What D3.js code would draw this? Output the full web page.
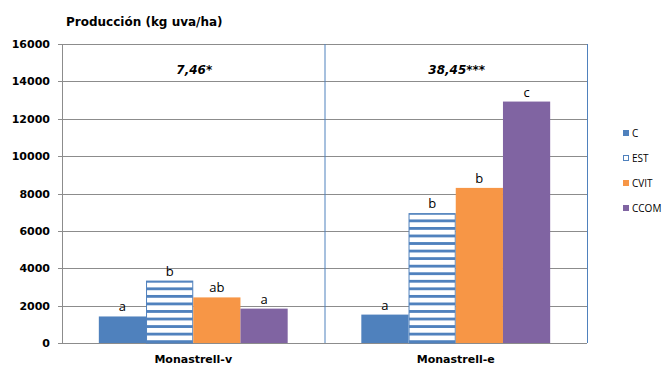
<!DOCTYPE html>
<html>
<head>
<meta charset="utf-8">
<script src="https://cdn.jsdelivr.net/npm/d3@7"></script>
<style>
  body { margin: 0; background: #fff; }
  svg { display: block; }
</style>
</head>
<body>
<script>
// Grape yield by variety and treatment
const categories = ["Monastrell-v", "Monastrell-e"];
const series = ["C", "EST", "CVIT", "CCOM"];
const valuesC    = [1420, 1520];
const valuesEST  = [3340, 6950];
const valuesCVIT = [2440, 8300];
const valuesCCOM = [1840, 12920];
const lettersC    = ["a", "a"];
const lettersEST  = ["b", "b"];
const lettersCVIT = ["ab", "b"];
const lettersCCOM = ["a", "c"];
const fStats = ["7,46*", "38,45***"];
const yTicks = [0, 2000, 4000, 6000, 8000, 10000, 12000, 14000, 16000];

const seriesValues = [valuesC, valuesEST, valuesCVIT, valuesCCOM];
const seriesLetters = [lettersC, lettersEST, lettersCVIT, lettersCCOM];

const W = 667, H = 367;
const plotL = 62, plotR = 587, plotT = 44, plotB = 343;

const svg = d3.select("body").append("svg").attr("width", W).attr("height", H);

const colors = { C: "#4f81bd", EST: "#4f81bd", CVIT: "#f79646", CCOM: "#8064a2" };

// striped fill for EST
const defs = svg.append("defs");
const pat = defs.append("pattern").attr("id", "stripes")
  .attr("patternUnits", "userSpaceOnUse").attr("width", 8).attr("height", 7.55)
  .attr("y", 0.5);
pat.append("rect").attr("width", 8).attr("height", 7.55).attr("fill", "#fff");
pat.append("rect").attr("y", 0).attr("width", 8).attr("height", 2.8).attr("fill", "#4f81bd");

const x0 = d3.scaleBand().domain(categories).range([plotL, plotR]);
const x1 = d3.scaleBand().domain(series).range([0, x0.bandwidth()]).paddingOuter(0.78);
const y = d3.scaleLinear().domain([0, 16000]).range([plotB, plotT]);

// gridlines
svg.append("g").selectAll("line").data(yTicks).join("line")
  .attr("x1", plotL - 4).attr("x2", plotR)
  .attr("y1", d => Math.round(y(d)) + 0.5).attr("y2", d => Math.round(y(d)) + 0.5)
  .attr("stroke", "#8c8c8c").attr("stroke-width", 1);

// y axis line
svg.append("line").attr("x1", plotL + 0.5).attr("x2", plotL + 0.5)
  .attr("y1", plotT).attr("y2", plotB).attr("stroke", "#8c8c8c");

// category separator and right border
svg.append("line").attr("x1", x0("Monastrell-e") + 0.5).attr("x2", x0("Monastrell-e") + 0.5)
  .attr("y1", plotT).attr("y2", plotB).attr("stroke", "#4f81bd");
svg.append("line").attr("x1", plotR + 0.5).attr("x2", plotR + 0.5)
  .attr("y1", plotT).attr("y2", plotB).attr("stroke", "#4f81bd");

// y tick labels
svg.append("g").selectAll("text").data(yTicks).join("text")
  .attr("x", 50).attr("y", d => y(d) + 4)
  .attr("text-anchor", "end")
  .attr("font-family", "DejaVu Sans").attr("font-weight", "bold").attr("font-size", 11)
  .attr("fill", "#000").text(d => d);

// axis title
svg.append("text").attr("x", 66).attr("y", 26)
  .attr("font-family", "DejaVu Sans").attr("font-weight", "bold").attr("font-size", 12)
  .text("Producción (kg uva/ha)");

// bars
const groups = svg.append("g").selectAll("g").data(categories).join("g")
  .attr("transform", c => `translate(${x0(c)},0)`);

groups.each(function(c, ci) {
  const g = d3.select(this);
  series.forEach((s, si) => {
    const v = seriesValues[si][ci];
    const bx = x1(s), bw = x1.bandwidth();
    if (s === "EST") {
      g.append("rect").attr("x", bx + 0.5).attr("y", y(v) + 0.5)
        .attr("width", bw - 1).attr("height", y(0) - y(v) - 0.5)
        .attr("fill", "url(#stripes)").attr("stroke", "#4f81bd").attr("stroke-width", 1);
    } else {
      g.append("rect").attr("x", bx).attr("y", y(v))
        .attr("width", bw).attr("height", y(0) - y(v))
        .attr("fill", colors[s]);
    }
    g.append("text").attr("x", bx + bw / 2).attr("y", y(v) - 5)
      .attr("text-anchor", "middle")
      .attr("font-family", "Open Sans").attr("font-size", 13)
      .text(seriesLetters[si][ci]);
  });
  g.append("text").attr("x", x0.bandwidth() / 2 + 1).attr("y", 74)
    .attr("text-anchor", "middle")
    .attr("font-family", "DejaVu Sans").attr("font-weight", "bold").attr("font-style", "italic")
    .attr("font-size", 12).text(fStats[ci]);
  g.append("text").attr("x", x0.bandwidth() / 2).attr("y", 363)
    .attr("text-anchor", "middle")
    .attr("font-family", "DejaVu Sans").attr("font-weight", "bold").attr("font-size", 11)
    .text(c);
});

// legend
const legend = svg.append("g").selectAll("g").data(series).join("g")
  .attr("transform", (d, i) => `translate(623,${133 + i * 25})`);
legend.append("rect")
  .attr("x", d => d === "EST" ? 0.5 : 0).attr("y", d => d === "EST" ? -2.5 : -3)
  .attr("width", d => d === "EST" ? 5 : 6).attr("height", d => d === "EST" ? 5 : 6)
  .attr("fill", d => d === "EST" ? "#fff" : colors[d])
  .attr("stroke", d => d === "EST" ? "#4f81bd" : "none");
legend.append("text").attr("x", 9).attr("y", 3.5)
  .attr("font-family", "Open Sans").attr("font-size", 10)
  .text(d => d);
</script>
</body>
</html>
